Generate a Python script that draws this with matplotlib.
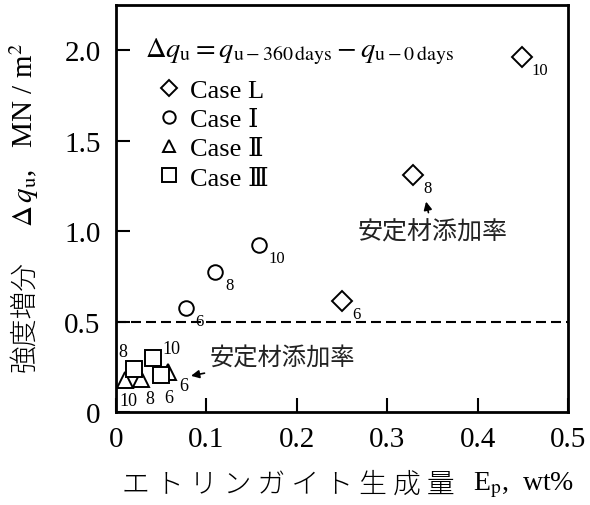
import matplotlib
matplotlib.use('Agg')
import matplotlib.pyplot as plt
from matplotlib.lines import Line2D

plt.rcParams['font.family'] = ['Liberation Serif', 'DejaVu Serif', 'Noto Sans CJK JP']
plt.rcParams['mathtext.fontset'] = 'stix'

# data
rate = [6, 8, 10]
caseL_x = [0.250, 0.329, 0.449]
caseL_y = [0.616, 1.310, 1.960]
caseI_x = [0.077, 0.110, 0.158]
caseI_y = [0.576, 0.773, 0.921]
caseII_x = [0.058, 0.028, 0.0096]
caseII_y = [0.220, 0.183, 0.177]
caseIII_x = [0.050, 0.020, 0.041]
caseIII_y = [0.205, 0.236, 0.296]

legend_labels = ['Case L', 'Case Ⅰ', 'Case Ⅱ', 'Case Ⅲ']
xticks = [0, 0.1, 0.2, 0.3, 0.4, 0.5]
xticklabels = ['0', '0.1', '0.2', '0.3', '0.4', '0.5']
yticks = [0, 0.5, 1.0, 1.5, 2.0]
yticklabels = ['0', '0.5', '1.0', '1.5', '2.0']

fig = plt.figure(figsize=(5.9, 5.06), dpi=100)
ax = fig.add_axes([0.1966, 0.1838, 0.7661, 0.8043])

mk = dict(linestyle='none', markerfacecolor='white', markeredgecolor='black', markeredgewidth=1.4)
ax.plot(caseL_x, caseL_y, marker='D', markersize=10, **mk)
ax.plot(caseI_x, caseI_y, marker='o', markersize=10.5, **mk)
ax.plot(caseII_x, caseII_y, marker='^', markersize=11, **mk)
ax.plot(caseIII_x, caseIII_y, marker='s', markersize=11.5, **mk)

ax.axhline(0.5, color='black', lw=1.5, linestyle=(0, (4.8, 2.4)))

# small number labels (additive rate)
for xs, ys in [(caseL_x, caseL_y), (caseI_x, caseI_y)]:
    for x, y, r in zip(xs, ys, rate):
        ax.annotate(str(r), (x, y), xytext=(10, -13), textcoords='offset pixels',
                    ha='left', va='center', fontsize=12)
tri_off = [(0, -25), (8.7, -20), (3.6, -20.7)]
for x, y, r, o in zip(caseII_x, caseII_y, rate, tri_off):
    ax.annotate(str(r), (x, y), xytext=o, textcoords='offset pixels',
                ha='center', va='center', fontsize=13)
sq_off = [(23, -10.7), (-11.7, 17.6), (18.7, 10.2)]
for x, y, r, o in zip(caseIII_x, caseIII_y, rate, sq_off):
    ax.annotate(str(r), (x, y), xytext=o, textcoords='offset pixels',
                ha='center', va='center', fontsize=13)

arr = dict(arrowstyle='-|>', color='black', lw=1.2, mutation_scale=12, shrinkA=2, shrinkB=0)
ax.annotate('安定材添加率', xy=(0.343, 1.163), xytext=(0.35, 1.0), ha='center', va='center',
            fontsize=18, family='Noto Sans CJK JP', color='#222222', arrowprops=arr)
ax.annotate('安定材添加率', xy=(0.083, 0.20), xytext=(0.104, 0.30), ha='left', va='center',
            fontsize=17.5, family='Noto Sans CJK JP', color='#222222', arrowprops=arr)

ax.text(0.064, 0.887,
        r'$\Delta q_{\rm u} = q_{{\rm u}-360\,{\rm days}} - q_{{\rm u}-0\,{\rm days}}$',
        transform=ax.transAxes, fontsize=20.5, ha='left', va='center')

handles = [Line2D([], [], marker=m, markersize=s, **mk)
           for m, s in zip(['D', 'o', '^', 's'], [10, 10.5, 11, 11.5])]
ax.legend(handles, legend_labels, loc='upper left', bbox_to_anchor=(0.091, 0.82),
          frameon=False, fontsize=19, handlelength=0.9, handletextpad=0.35,
          labelspacing=0.22, borderpad=0, borderaxespad=0, markerscale=0.85)

ax.set_xlim(0, 0.5)
ax.set_ylim(0, 2.25)
ax.set_xticks(xticks)
ax.set_xticklabels(xticklabels)
ax.set_yticks(yticks)
ax.set_yticklabels(yticklabels)
ax.tick_params(direction='in', length=10, width=1.5, labelsize=21)
ax.tick_params(axis='x', pad=10)
ax.tick_params(axis='y', pad=11)
for s in ax.spines.values():
    s.set_linewidth(2.0)

# axis titles, built from pieces (CJK + serif)
fig.text(0.041, 0.375, '強度増分', rotation=90, ha='center', va='center',
         fontsize=20, family='Noto Sans CJK JP', fontweight='light')
fig.text(0.041, 0.733, r'$\Delta\,q_{\rm u}$,   MN / m$^2$', rotation=90,
         ha='center', va='center', fontsize=21)
fig.text(0.488, 0.0415, 'エ ト リ ン ガ イ ト 生 成 量', ha='center', va='center',
         fontsize=20, family='Noto Sans CJK JP', fontweight='light')
fig.text(0.888, 0.0415, r'E$_{\rm p}$,  wt%', ha='center', va='center', fontsize=20)

fig.savefig('out.png', dpi=100)
